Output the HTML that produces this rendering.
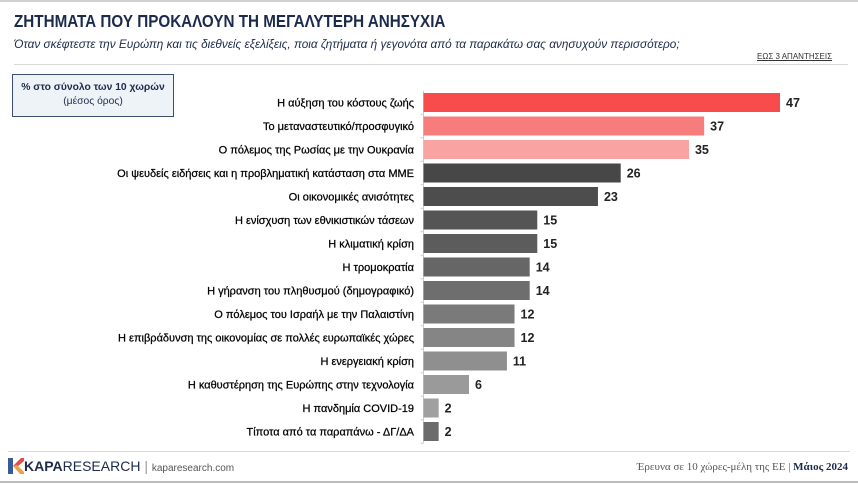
<!DOCTYPE html>
<html><head><meta charset="utf-8"><style>
body{margin:0;width:858px;height:484px;background:#fff;font-family:"Liberation Sans",sans-serif;position:relative;overflow:hidden}
.a{position:absolute}
</style></head><body>
<div class="a" style="left:0;top:0;width:858px;height:2px;background:#d0d0d0"></div>
<div class="a" style="left:14px;top:11px;font-size:17.5px;font-weight:bold;color:#1c2b4b;transform:scaleX(0.87);transform-origin:0 0;white-space:nowrap">ΖΗΤΗΜΑΤΑ ΠΟΥ ΠΡΟΚΑΛΟΥΝ ΤΗ ΜΕΓΑΛΥΤΕΡΗ ΑΝΗΣΥΧΙΑ</div>
<div class="a" style="left:14px;top:37px;font-size:11.8px;font-style:italic;color:#1c2b4b;white-space:nowrap">Όταν σκέφτεστε την Ευρώπη και τις διεθνείς εξελίξεις, ποια ζητήματα ή γεγονότα από τα παρακάτω σας ανησυχούν περισσότερο;</div>
<div class="a" style="left:757px;top:52px;font-size:8px;color:#333;text-decoration:underline">ΕΩΣ 3 ΑΠΑΝΤΗΣΕΙΣ</div>
<div class="a" style="left:14px;top:64px;width:834px;height:1px;background:#d8d8d8"></div>
<div class="a" style="left:12px;top:74px;width:162px;height:43px;border:1px solid #3a4f6e;background:#eef3f8;text-align:center;color:#1c2b4b;font-size:10.3px;line-height:14px;box-sizing:border-box;padding-top:6px;white-space:nowrap"><b>% στο σύνολο των 10 χωρών</b><br>(μέσος όρος)</div>
<svg class="a" style="left:0;top:0" width="858" height="484">
<g id="g"></g>
</svg>
<div class="a" style="left:8px;top:451px;width:842px;height:1px;background:#d8d8d8"></div>
<div class="a" style="left:8px;top:458px;font-size:14px;color:#1c2b4b">
<svg width="16" height="16" style="vertical-align:-3px"><polygon points="0,0 5,0 5,16 0,16" fill="#3a5a9a"/><polygon points="5,8 13,0 16,0 16,3 9,9" fill="#e84a4a"/><polygon points="5,8 9,7 16,14 16,16 12,16" fill="#f0a040"/></svg><b>KAPA</b>RESEARCH <span style="color:#999">|</span> <span style="font-size:10px;color:#555">kaparesearch.com</span></div>
<div class="a" style="right:10px;top:461px;font-family:'Liberation Serif',serif;font-size:11px;color:#555">Έρευνα σε 10 χώρες-μέλη της ΕΕ | <b style="color:#1c2b4b">Μάιος 2024</b></div>
<div class="a" style="left:0;top:481px;width:858px;height:2px;background:#bbb"></div>
<script>
const categories=["Η αύξηση του κόστους ζωής","Το μεταναστευτικό/προσφυγικό","Ο πόλεμος της Ρωσίας με την Ουκρανία","Οι ψευδείς ειδήσεις και η προβληματική κατάσταση στα ΜΜΕ","Οι οικονομικές ανισότητες","Η ενίσχυση των εθνικιστικών τάσεων","Η κλιματική κρίση","Η τρομοκρατία","Η γήρανση του πληθυσμού (δημογραφικό)","Ο πόλεμος του Ισραήλ με την Παλαιστίνη","Η επιβράδυνση της οικονομίας σε πολλές ευρωπαϊκές χώρες","Η ενεργειακή κρίση","Η καθυστέρηση της Ευρώπης στην τεχνολογία","Η πανδημία COVID-19","Τίποτα από τα παραπάνω - ΔΓ/ΔΑ"];
const values=[47,37,35,26,23,15,15,14,14,12,12,11,6,2,2];
const colors=["#f84c4c","#f77d7d","#f9a3a3","#474747","#4d4d4d","#555555","#5c5c5c","#666666","#6e6e6e","#7a7a7a","#858585","#8f8f8f","#9a9a9a","#a0a0a0","#6b6b6b"];
const x0=423.5,scale=(780-423.5)/47,y0=102.5,step=23.5,bh=19;
const xs=v=>x0+v*scale, ys=i=>y0+i*step;
const ns="http://www.w3.org/2000/svg",g=document.getElementById('g');
function mk(t,a){const e=document.createElementNS(ns,t);for(const k in a)e.setAttribute(k,a[k]);g.appendChild(e);return e;}
const ax=mk('line',{x1:x0,x2:x0,y1:ys(0)-step/2,y2:ys(14)+step/2,stroke:'#ccc'});


categories.forEach((c,i)=>{
const y=ys(i);
const tk=mk('line',{x1:x0-3,x2:x0,y1:y+step/2,y2:y+step/2,stroke:'#ccc'});


const r=mk('rect',{x:x0,y:y-bh/2,width:xs(values[i])-x0,height:bh,fill:colors[i]});


const l=mk('text',{x:414,y:y+4,'text-anchor':'end','font-size':'11','fill':'#000','stroke':'#000','stroke-width':'0.25','font-family':'Liberation Sans, sans-serif'});
l.textContent=c;


const v=mk('text',{x:xs(values[i])+6,y:y+4.5,'font-size':'12.5','font-weight':'bold','fill':'#222','font-family':'Liberation Sans, sans-serif'});
v.textContent=values[i];


});
</script>
</body></html>
